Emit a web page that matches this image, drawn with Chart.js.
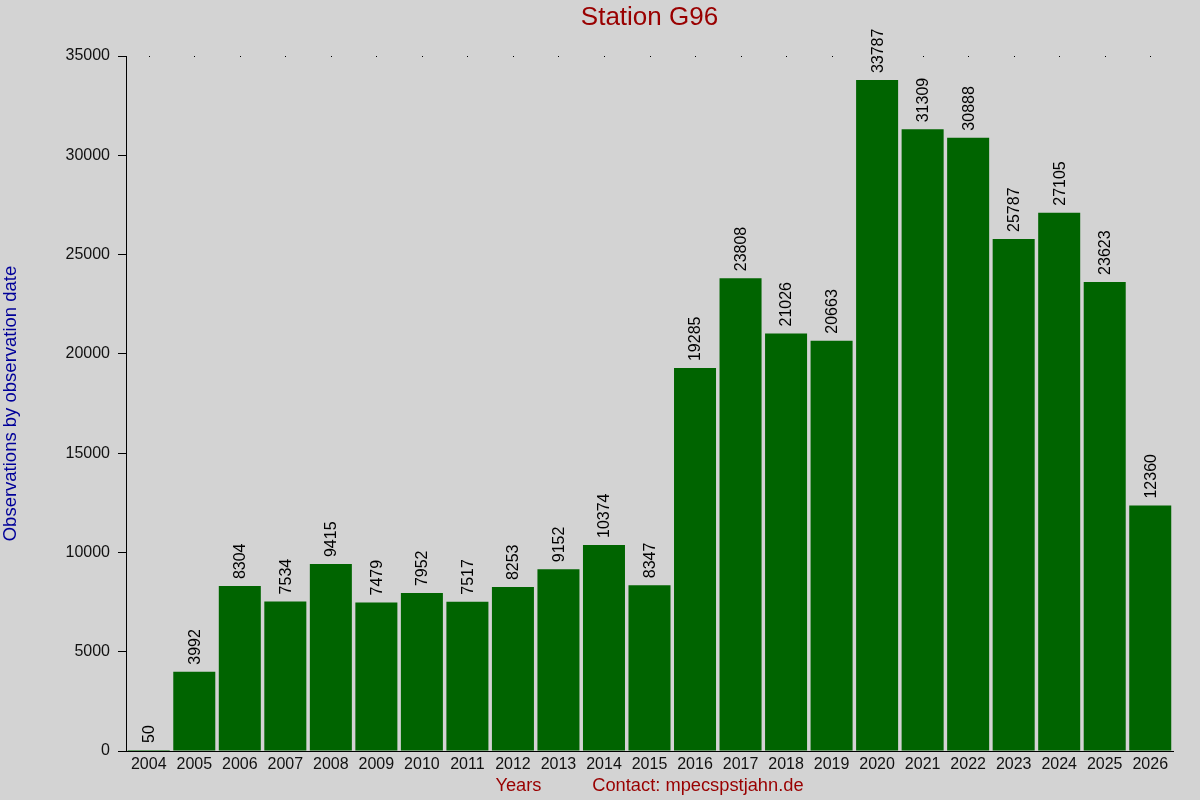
<!DOCTYPE html>
<html>
<head>
<meta charset="utf-8">
<script src="https://cdn.jsdelivr.net/npm/chart.js@4/dist/chart.umd.min.js"></script>
<style>
html,body{margin:0;padding:0;background:#d3d3d3;}
#c{display:block;}
</style>
</head>
<body>
<canvas id="c" width="1200" height="800"></canvas>
<script>
const years = ['2004','2005','2006','2007','2008','2009','2010','2011','2012','2013','2014','2015','2016','2017','2018','2019','2020','2021','2022','2023','2024','2025','2026'];
const observations = [50,3992,8304,7534,9415,7479,7952,7517,8253,9152,10374,8347,19285,23808,21026,20663,33787,31309,30888,25787,27105,23623,12360];
const chartTitle = 'Station G96';
const yTitle = 'Observations by observation date';
const xTitle = 'Years          Contact: mpecspstjahn.de';

const FONT = '"Liberation Sans", Arial, Helvetica, sans-serif';

const bgPlugin = {
  id: 'bg',
  beforeDraw(chart) {
    const ctx = chart.ctx;
    ctx.save();
    ctx.fillStyle = '#d3d3d3';
    ctx.fillRect(0, 0, chart.width, chart.height);
    ctx.restore();
  }
};

const decoPlugin = {
  id: 'deco',
  afterDatasetsDraw(chart) {
    const ctx = chart.ctx;
    const area = chart.chartArea;
    const meta = chart.getDatasetMeta(0);
    ctx.save();
    ctx.fillStyle = '#000';
    meta.data.forEach(bar => {
      ctx.fillRect(Math.round(bar.x), area.top, 1, 1);
    });
    ctx.font = '16px ' + FONT;
    ctx.fillStyle = '#000';
    ctx.textAlign = 'left';
    ctx.textBaseline = 'middle';
    meta.data.forEach((bar, i) => {
      ctx.save();
      ctx.translate(bar.x + 1, bar.y - 7);
      ctx.rotate(-Math.PI / 2);
      ctx.fillText(String(observations[i]), 0, 0);
      ctx.restore();
    });
    ctx.font = '26px ' + FONT;
    ctx.fillStyle = '#990000';
    ctx.textAlign = 'center';
    ctx.textBaseline = 'middle';
    ctx.fillText(chartTitle, (area.left + area.right) / 2, 18);
    ctx.restore();
  }
};

new Chart(document.getElementById('c'), {
  type: 'bar',
  data: {
    labels: years,
    datasets: [{
      data: observations,
      backgroundColor: '#006400',
      borderWidth: 0,
      barPercentage: 0.923,
      categoryPercentage: 1.0
    }]
  },
  options: {
    responsive: false,
    animation: false,
    devicePixelRatio: 1,
    layout: { padding: { left: 0, right: 27, top: 56, bottom: 0 } },
    plugins: {
      legend: { display: false },
      title: { display: false },
      tooltip: { enabled: false }
    },
    scales: {
      x: {
        afterFit(scale) { scale.height = 49; },
        grid: { display: false, drawTicks: false },
        border: { display: true, color: '#000', width: 1 },
        ticks: { color: '#111', font: { family: FONT, size: 16 }, padding: 4, maxRotation: 0, autoSkip: false },
        title: { display: true, text: xTitle, color: '#990000', font: { family: FONT, size: 18.3 }, padding: { top: 0, bottom: 3 } }
      },
      y: {
        min: 0,
        max: 35000,
        afterFit(scale) { scale.width = 126; },
        grid: { display: true, drawOnChartArea: false, drawTicks: true, tickLength: 8, color: '#000' },
        border: { display: true, color: '#000', width: 1 },
        ticks: { stepSize: 5000, color: '#111', font: { family: FONT, size: 16 }, padding: 8, callback: v => String(v) },
        title: { display: true, text: yTitle, color: '#000099', font: { family: FONT, size: 18.5 }, padding: { top: 0, bottom: 0 } }
      }
    }
  },
  plugins: [bgPlugin, decoPlugin]
});
</script>
</body>
</html>
